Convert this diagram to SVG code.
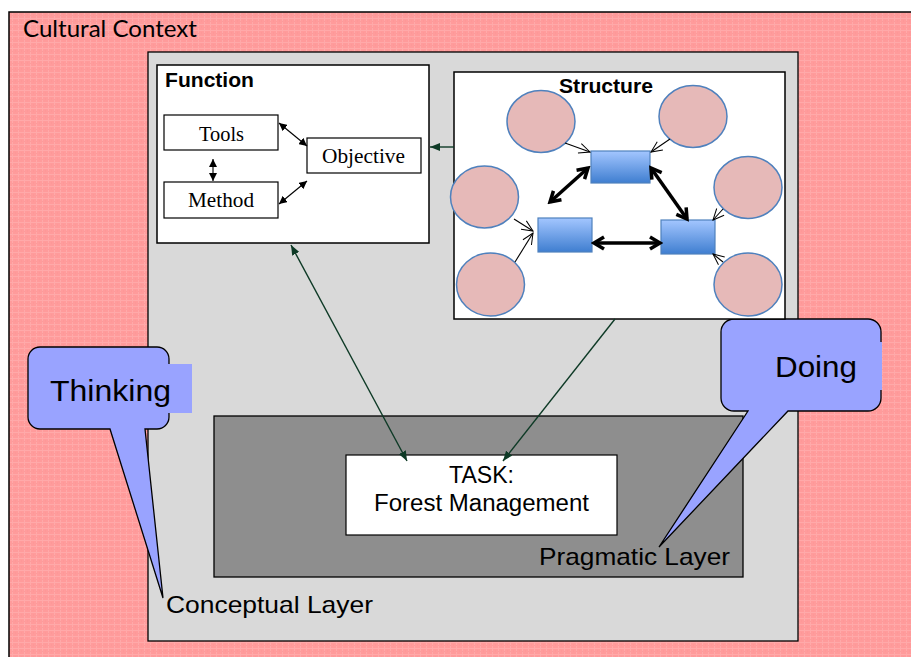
<svg xmlns="http://www.w3.org/2000/svg" width="911" height="657" viewBox="0 0 911 657">
  <defs>
    <style>
      .sans { font-family: "Liberation Sans", Arial, sans-serif; fill: #000; }
      .serif { font-family: "Liberation Serif", "Times New Roman", serif; fill: #000; font-size: 20.5px; }
      .frame { fill: #fff; stroke: #000; stroke-width: 1.5; }
      .small { fill: #fff; stroke: #000; stroke-width: 1.2; }
      .actor { fill: #e6b9b8; stroke: #4f81bd; stroke-width: 1.5; }
      .unit { fill: url(#blueGrad); stroke: #4f81bd; stroke-width: 1.2; }
      .callout { fill: #99a3ff; stroke: #000; stroke-width: 1.3; }
      .link { stroke: #0e3a26; stroke-width: 1.4; fill: none; }
      .thin { stroke: #000; stroke-width: 1.1; fill: none; }
      .thick { stroke: #000; stroke-width: 3.5; fill: none; }
    </style>
    <pattern id="weave" width="6" height="6" patternUnits="userSpaceOnUse">
      <rect width="6" height="6" fill="#ff9b9b"/>
      <path d="M0,0.5 H6 M0.5,0 V6" stroke="#ffb3b3" stroke-width="1" opacity="0.6"/>
      <path d="M3,3 h1 M0,3.5 h1" stroke="#f28a8a" stroke-width="1" opacity="0.4"/>
    </pattern>
    <linearGradient id="blueGrad" x1="0" y1="0" x2="0" y2="1">
      <stop offset="0" stop-color="#a3c6ff"/>
      <stop offset="1" stop-color="#3f7ed0"/>
    </linearGradient>
    <marker id="headSmall" viewBox="0 0 8 8" refX="8" refY="4" markerWidth="8" markerHeight="8" markerUnits="userSpaceOnUse" orient="auto-start-reverse">
      <path d="M0,0 L8,4 L0,8 z" fill="#000"/>
    </marker>
    <marker id="headGreen" viewBox="0 0 10 8" refX="10" refY="4" markerWidth="10" markerHeight="8" markerUnits="userSpaceOnUse" orient="auto-start-reverse">
      <path d="M0,0 L10,4 L0,8 z" fill="#0e3a26"/>
    </marker>
    <marker id="vThin" viewBox="-1 -1 13 12" refX="11" refY="5" markerWidth="13" markerHeight="12" markerUnits="userSpaceOnUse" orient="auto-start-reverse">
      <path d="M0,0 L11,5 L0,10" fill="none" stroke="#000" stroke-width="1"/>
    </marker>
    <marker id="vThick" viewBox="-3 -3 16 18" refX="10" refY="6" markerWidth="16" markerHeight="18" markerUnits="userSpaceOnUse" orient="auto-start-reverse">
      <path d="M0,0 L10,6 L0,12" fill="none" stroke="#000" stroke-width="3.5" stroke-linejoin="miter"/>
    </marker>
  </defs>

  <!-- background layers -->
  <g id="cultural-context">
    <rect x="9" y="12" width="910" height="660" fill="url(#weave)" stroke="#000" stroke-width="1.5"/>
    <text x="23" y="37" font-size="23" textLength="174" lengthAdjust="spacingAndGlyphs" style="font-family: Lato, 'Liberation Sans', sans-serif; fill: #000">Cultural Context</text>
  </g>

  <g id="conceptual-layer">
    <rect x="148" y="52" width="650" height="589" fill="#d9d9d9" stroke="#000" stroke-width="1.3"/>
    <text class="sans" x="166" y="613" font-size="24" textLength="207" lengthAdjust="spacingAndGlyphs">Conceptual Layer</text>
  </g>

  <g id="thinking">
    <path class="callout" d="M40,347 H157 A12,12 0 0 1 169,359 V417 A12,12 0 0 1 157,429 H145 L163,598 L110,429 H40 A12,12 0 0 1 28,417 V359 A12,12 0 0 1 40,347 Z"/>
    <rect x="150" y="364" width="42" height="49" fill="#99a3ff"/>
    <text class="sans" x="50" y="401" font-size="30" textLength="121" lengthAdjust="spacingAndGlyphs">Thinking</text>
  </g>

  <g id="pragmatic-layer">
    <rect x="214" y="416" width="529" height="161" fill="#8e8e8e" stroke="#000" stroke-width="1.3"/>
  </g>

  <g id="task">
    <rect class="small" x="346" y="455" width="271" height="80"/>
    <text class="sans" x="449" y="483" font-size="23" textLength="65" lengthAdjust="spacingAndGlyphs">TASK:</text>
    <text class="sans" x="374" y="511" font-size="23" textLength="215" lengthAdjust="spacingAndGlyphs">Forest Management</text>
  </g>

  <g id="doing">
    <path class="callout" d="M734,319 H868 A13,13 0 0 1 881,332 V398 A13,13 0 0 1 868,411 H788 L659,547 L748,411 H734 A13,13 0 0 1 721,398 V332 A13,13 0 0 1 734,319 Z"/>
    <rect x="874" y="342" width="8" height="48" fill="#99a3ff"/>
    <text class="sans" x="775" y="377" font-size="30" textLength="82" lengthAdjust="spacingAndGlyphs">Doing</text>
  </g>

  <text class="sans" x="539" y="565" font-size="24" textLength="191" lengthAdjust="spacingAndGlyphs">Pragmatic Layer</text>

  <!-- Function panel -->
  <g id="function">
    <rect class="frame" x="157" y="65" width="272" height="178"/>
    <text class="sans" x="165" y="87" font-size="20" font-weight="bold" textLength="89" lengthAdjust="spacingAndGlyphs">Function</text>
  </g>
  <g id="tools">
    <rect class="small" x="164" y="115" width="114" height="35"/>
    <text class="serif" x="199" y="141" textLength="45" lengthAdjust="spacingAndGlyphs">Tools</text>
  </g>
  <g id="method">
    <rect class="small" x="164" y="182" width="114" height="36"/>
    <text class="serif" x="188" y="207" textLength="66" lengthAdjust="spacingAndGlyphs">Method</text>
  </g>
  <g id="objective">
    <rect class="small" x="307" y="138" width="114" height="35"/>
    <text class="serif" x="322" y="163" textLength="83" lengthAdjust="spacingAndGlyphs">Objective</text>
  </g>

  <!-- Structure panel -->
  <g id="structure">
    <rect class="frame" x="454" y="72" width="331" height="247"/>
    <text class="sans" x="559" y="93" font-size="20" font-weight="bold" textLength="94" lengthAdjust="spacingAndGlyphs">Structure</text>
  </g>
  <g id="actor-1"><ellipse class="actor" cx="541" cy="121.5" rx="34" ry="31"/></g>
  <g id="actor-2"><ellipse class="actor" cx="693" cy="116.5" rx="34" ry="31"/></g>
  <g id="actor-3"><ellipse class="actor" cx="484.5" cy="197" rx="34" ry="31"/></g>
  <g id="actor-4"><ellipse class="actor" cx="748" cy="187.5" rx="34" ry="31"/></g>
  <g id="actor-5"><ellipse class="actor" cx="490.5" cy="284.5" rx="34" ry="31.5"/></g>
  <g id="actor-6"><ellipse class="actor" cx="748" cy="284.5" rx="34" ry="31.5"/></g>
  <g id="unit-top"><rect class="unit" x="591" y="151" width="59" height="32"/></g>
  <g id="unit-left"><rect class="unit" x="538" y="218" width="54" height="34"/></g>
  <g id="unit-right"><rect class="unit" x="661" y="220" width="54" height="34"/></g>

  <!-- connectors -->
  <g id="connectors">
    <!-- Function internals -->
    <line class="thin" x1="213" y1="159" x2="213" y2="181" marker-start="url(#headSmall)" marker-end="url(#headSmall)"/>
    <line class="thin" x1="279" y1="123" x2="307" y2="146" marker-start="url(#headSmall)" marker-end="url(#headSmall)"/>
    <line class="thin" x1="279" y1="204" x2="307" y2="181" marker-start="url(#headSmall)" marker-end="url(#headSmall)"/>

    <!-- Structure internals -->
    <line class="thin" x1="565" y1="143" x2="590" y2="152" marker-end="url(#vThin)"/>
    <line class="thin" x1="670" y1="139" x2="651" y2="152" marker-end="url(#vThin)"/>
    <line class="thin" x1="514" y1="219" x2="533" y2="231" marker-end="url(#vThin)"/>
    <line class="thin" x1="515" y1="262" x2="533" y2="233" marker-end="url(#vThin)"/>
    <line class="thin" x1="723" y1="209" x2="713" y2="220" marker-end="url(#vThin)"/>
    <line class="thin" x1="723" y1="262" x2="713" y2="254" marker-end="url(#vThin)"/>
    <line class="thick" x1="588" y1="168" x2="550" y2="202" marker-start="url(#vThick)" marker-end="url(#vThick)"/>
    <line class="thick" x1="651" y1="168" x2="687" y2="219" marker-start="url(#vThick)" marker-end="url(#vThick)"/>
    <line class="thick" x1="594" y1="243" x2="660" y2="243" marker-start="url(#vThick)" marker-end="url(#vThick)"/>

    <!-- Between panels and task -->
    <line class="link" x1="454" y1="147" x2="430" y2="147" marker-end="url(#headGreen)"/>
    <line class="link" x1="291" y1="245" x2="407" y2="461" marker-start="url(#headGreen)" marker-end="url(#headGreen)"/>
    <line class="link" x1="615" y1="319" x2="503" y2="461" marker-end="url(#headGreen)"/>
  </g>
</svg>
